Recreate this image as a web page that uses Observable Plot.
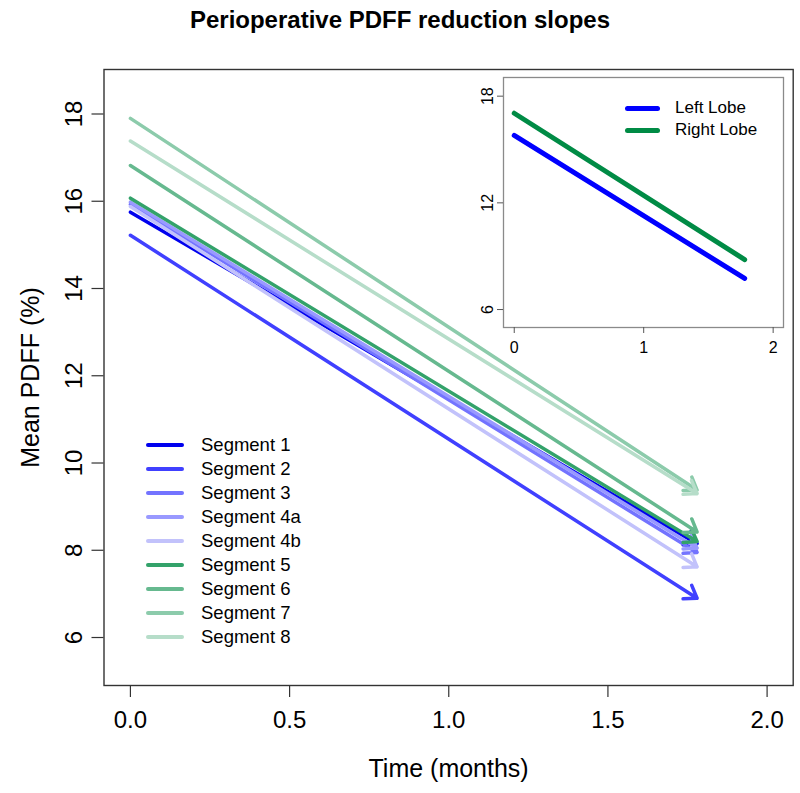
<!DOCTYPE html>
<html>
<head>
<meta charset="utf-8">
<script src="https://cdn.jsdelivr.net/npm/d3@7"></script>
<script src="https://cdn.jsdelivr.net/npm/@observablehq/plot@0.6"></script>
<style>
  html, body { margin: 0; padding: 0; background: #fff; }
  body { width: 800px; height: 793px; position: relative; overflow: hidden;
         font-family: "Liberation Sans", Arial, Helvetica, sans-serif; }
  #title { height: 50px; box-sizing: border-box; padding-top: 8px; text-align: center;
           font-size: 24px; line-height: 24px; font-weight: bold; color: #000; }
  #chart svg { display: block; }
  #inset { position: absolute; left: 468px; top: 70px; }
  #inset svg { display: block; background: transparent; }
  .leg { position: absolute; display: flex; align-items: center; white-space: nowrap; color: #000; }
  .sw { display: inline-block; border-radius: 3px; }
</style>
</head>
<body>
<div id="title">Perioperative PDFF reduction slopes</div>
<div id="chart"></div>
<div id="inset"></div>
<div id="legend"></div>
<div id="insetLegend"></div>
<script>
// ---- data ----
const segments = ["Segment 1", "Segment 2", "Segment 3", "Segment 4a", "Segment 4b",
                  "Segment 5", "Segment 6", "Segment 7", "Segment 8"];
const startPDFF = [15.75, 15.22, 15.93, 15.98, 15.88, 16.07, 16.82, 17.90, 17.38];
const endPDFF   = [8.15, 6.90, 7.95, 8.05, 7.62, 8.20, 8.42, 9.38, 9.30];
const timePoints = [0, 1.78];
const segColors = ["#0000ee", "#4040ff", "#7373ff", "#9999ff", "#c2c2fb",
                   "#33a26a", "#66b98f", "#8ccbab", "#b6ddc9"];

const lobes = ["Left Lobe", "Right Lobe"];
const lobeStart = [15.79, 17.04];
const lobeEnd = [7.75, 8.81];
const lobeColors = ["#0000ff", "#008b45"];

const xTicks = [0, 0.5, 1, 1.5, 2];
const yTicks = [6, 8, 10, 12, 14, 16, 18];
const insetXTicks = [0, 1, 2];
const insetYTicks = [6, 12, 18];

const FONT = '"Liberation Sans", Arial, Helvetica, sans-serif';

const segData = segments.map((s, i) => ({
  segment: s, x1: timePoints[0], y1: startPDFF[i], x2: timePoints[1], y2: endPDFF[i], color: segColors[i]
}));
const lobeData = lobes.map((s, i) => ({
  lobe: s, x1: timePoints[0], y1: lobeStart[i], x2: timePoints[1], y2: lobeEnd[i], color: lobeColors[i]
}));

const f1 = d3.format(".1f");

// ---- main chart ----
const main = Plot.plot({
  width: 800, height: 743,
  marginLeft: 103.5, marginRight: 7.3, marginTop: 19, marginBottom: 108,
  x: {domain: [-0.083, 2.082]},
  y: {domain: [4.9, 19.02]},
  color: {type: "identity"},
  style: {fontFamily: FONT, background: "white", color: "#000"},
  marks: [
    Plot.axisX(xTicks, {tickSize: 12, tickFormat: () => "", stroke: "#333", strokeWidth: 1.2, label: null}),
    Plot.axisY(yTicks, {tickSize: 12, tickFormat: () => "", stroke: "#333", strokeWidth: 1.2, label: null}),
    Plot.text(xTicks, {x: d => d, text: d => f1(d), frameAnchor: "bottom", dy: 35,
      lineAnchor: "middle", fontSize: 24, fill: "#000"}),
    Plot.text(yTicks, {y: d => d, text: d => String(d), frameAnchor: "left", dx: -29.5,
      rotate: -90, textAnchor: "middle", lineAnchor: "middle", fontSize: 24, fill: "#000"}),
    Plot.text(["Time (months)"], {text: d => d, frameAnchor: "bottom", dy: 83,
      lineAnchor: "middle", fontSize: 25, fill: "#000"}),
    Plot.text(["Mean PDFF (%)"], {text: d => d, frameAnchor: "left", dx: -73.5,
      rotate: -90, textAnchor: "middle", lineAnchor: "middle", fontSize: 25, fill: "#000"}),
    Plot.arrow(segData, {x1: "x1", y1: "y1", x2: "x2", y2: "y2", stroke: "color",
      strokeWidth: 3.5, headLength: 6, headAngle: 70, strokeLinejoin: "miter"}),
    Plot.frame({stroke: "#333", strokeWidth: 1.4})
  ]
});
document.getElementById("chart").appendChild(main);

// ---- inset ----
const inset = Plot.plot({
  width: 322, height: 295,
  marginLeft: 35, marginRight: 7, marginTop: 7, marginBottom: 38,
  x: {domain: [-0.083, 2.08]},
  y: {domain: [4.99, 19.05]},
  color: {type: "identity"},
  style: {fontFamily: FONT, background: "transparent", color: "#000"},
  marks: [
    Plot.frame({fill: "white", stroke: "#8a8a8a", strokeWidth: 1.3}),
    Plot.axisX(insetXTicks, {tickSize: 6, tickFormat: () => "", stroke: "#555", label: null}),
    Plot.axisY(insetYTicks, {tickSize: 6, tickFormat: () => "", stroke: "#555", label: null}),
    Plot.text(insetXTicks, {x: d => d, text: d => String(d), frameAnchor: "bottom", dy: 20,
      lineAnchor: "middle", fontSize: 16, fill: "#000"}),
    Plot.text(insetYTicks, {y: d => d, text: d => String(d), frameAnchor: "left", dx: -16,
      rotate: -90, textAnchor: "middle", lineAnchor: "middle", fontSize: 16, fill: "#000"}),
    Plot.link(lobeData, {x1: "x1", y1: "y1", x2: "x2", y2: "y2", stroke: "color",
      strokeWidth: 5, strokeLinecap: "round"})
  ]
});
document.getElementById("inset").appendChild(inset);

// ---- legends ----
const legend = document.getElementById("legend");
segments.forEach((s, i) => {
  const row = document.createElement("div");
  row.className = "leg";
  row.style.left = "146px";
  row.style.top = (445 + i * 24 - 12) + "px";
  row.style.height = "24px";
  row.style.fontSize = "18.5px";
  const sw = document.createElement("span");
  sw.className = "sw";
  sw.style.width = "38px"; sw.style.height = "3.5px"; sw.style.background = segColors[i];
  sw.style.marginRight = "17px";
  row.appendChild(sw);
  row.appendChild(document.createTextNode(s));
  legend.appendChild(row);
});
const insetLegend = document.getElementById("insetLegend");
lobes.forEach((s, i) => {
  const row = document.createElement("div");
  row.className = "leg";
  row.style.left = "625px";
  row.style.top = (108 + i * 22 - 11) + "px";
  row.style.height = "22px";
  row.style.fontSize = "17px";
  const sw = document.createElement("span");
  sw.className = "sw";
  sw.style.width = "35px"; sw.style.height = "5px"; sw.style.background = lobeColors[i];
  sw.style.marginRight = "15px";
  row.appendChild(sw);
  row.appendChild(document.createTextNode(s));
  insetLegend.appendChild(row);
});
</script>
</body>
</html>
